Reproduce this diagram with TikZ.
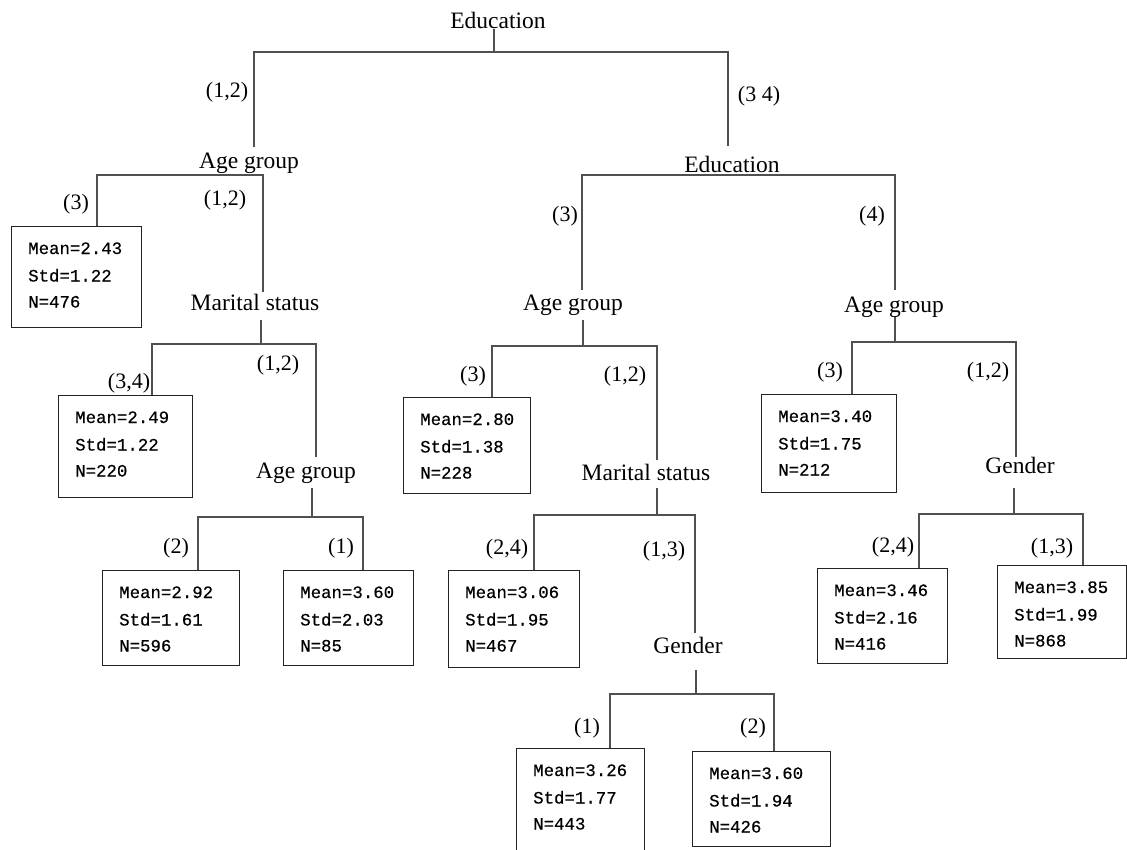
\documentclass[tikz,border=0pt]{standalone}
\usepackage{fontspec}
\setmainfont{Liberation Serif}
\newfontfamily\monof[FakeBold=0.4]{Liberation Mono}
\definecolor{linecol}{RGB}{80,80,80}
\definecolor{boxcol}{RGB}{35,35,35}
\newcommand{\mkbox}[8]{%
  \node[statbox, minimum width=#4pt, minimum height=#5pt] (#1) at (#2,#3) {};
  \node[stat] (#1-m) at (#2+17,#3+28) {Mean=#6};
  \node[stat] (#1-s) at (#2+17,#3+55.5) {Std=#7};
  \node[stat] (#1-n) at (#2+17,#3+81.5) {N=#8};
}
\begin{document}
\begin{tikzpicture}[x=1pt,y=-1pt,
  conn/.style={draw=linecol, line width=1.4pt},
  split/.style={font=\fontsize{23.5}{26}\selectfont, inner sep=0pt, anchor=base},
  lab/.style={font=\fontsize{22}{24}\selectfont, inner sep=0pt},
  statbox/.style={draw=boxcol, line width=1.4pt, anchor=north west, inner sep=0pt, fill=white},
  stat/.style={font=\monof\fontsize{17.4}{20}\selectfont, inner sep=0pt, anchor=base west}]
\fill[white] (0,0) rectangle (1127,849);
\clip (0,0) rectangle (1127,849);

% split nodes
\node[split] (edu1) at (498,28) {Education};
\node[split] (age1) at (249,168) {Age group};
\node[split] (ms1) at (255,310) {Marital status};
\node[split] (age2) at (306,478) {Age group};
\node[split] (edu2) at (732,172) {Education};
\node[split] (age3) at (573,310) {Age group};
\node[split] (ms2) at (646,480) {Marital status};
\node[split] (gen1) at (688,653) {Gender};
\node[split] (age4) at (894,312) {Age group};
\node[split] (gen2) at (1020,473) {Gender};

% leaf boxes
\mkbox{b1}{11}{226}{130}{101}{2.43}{1.22}{476}
\mkbox{b2}{58}{395}{134}{102}{2.49}{1.22}{220}
\mkbox{b3}{102}{570}{137}{95}{2.92}{1.61}{596}
\mkbox{b4}{283}{570}{130}{95}{3.60}{2.03}{85}
\mkbox{b5}{403}{397}{127}{96}{2.80}{1.38}{228}
\mkbox{b6}{448}{570}{131}{97}{3.06}{1.95}{467}
\mkbox{b7}{516}{748}{128}{120}{3.26}{1.77}{443}
\mkbox{b8}{692}{751}{138}{95}{3.60}{1.94}{426}
\mkbox{b9}{761}{394}{135}{98}{3.40}{1.75}{212}
\mkbox{b10}{817}{568}{130}{95}{3.46}{2.16}{416}
\mkbox{b11}{997}{565}{129}{93}{3.85}{1.99}{868}

% connector points
\coordinate (r-t) at (494,29);  \coordinate (r-j) at (494,52);
\coordinate (r-l) at (254,147); \coordinate (r-r) at (728,146);
\coordinate (a1-j) at (263,175); \coordinate (a1-l) at (97,226); \coordinate (a1-r) at (263,292);
\coordinate (m1-t) at (261,320); \coordinate (m1-j) at (261,344);
\coordinate (m1-l) at (152,395); \coordinate (m1-r) at (316,457);
\coordinate (a2-t) at (312,488); \coordinate (a2-j) at (312,517);
\coordinate (a2-l) at (198,570); \coordinate (a2-r) at (363,570);
\coordinate (e2-j) at (732,175); \coordinate (e2-l) at (582,290); \coordinate (e2-r) at (895,290);
\coordinate (a3-t) at (583,320); \coordinate (a3-j) at (583,346);
\coordinate (a3-l) at (492,397); \coordinate (a3-r) at (657,460);
\coordinate (m2-t) at (657,488); \coordinate (m2-j) at (657,515);
\coordinate (m2-l) at (534,570); \coordinate (m2-r) at (695,633);
\coordinate (g1-t) at (696,670); \coordinate (g1-j) at (696,694);
\coordinate (g1-l) at (610,748); \coordinate (g1-r) at (774,751);
\coordinate (a4-t) at (895,317); \coordinate (a4-j) at (895,342);
\coordinate (a4-l) at (852,394); \coordinate (a4-r) at (1016,457);
\coordinate (g2-t) at (1014,488); \coordinate (g2-j) at (1014,514);
\coordinate (g2-l) at (919,568); \coordinate (g2-r) at (1083,565);

% connectors
\draw[conn] (r-t) -- (r-j);
\draw[conn] (r-l) |- (r-j) -| (r-r);
\draw[conn] (a1-l) |- (a1-j) -- (a1-r);
\draw[conn] (m1-t) -- (m1-j);
\draw[conn] (m1-l) |- (m1-j) -| (m1-r);
\draw[conn] (a2-t) -- (a2-j);
\draw[conn] (a2-l) |- (a2-j) -| (a2-r);
\draw[conn] (e2-l) |- (e2-j) -| (e2-r);
\draw[conn] (a3-t) -- (a3-j);
\draw[conn] (a3-l) |- (a3-j) -| (a3-r);
\draw[conn] (m2-t) -- (m2-j);
\draw[conn] (m2-l) |- (m2-j) -| (m2-r);
\draw[conn] (g1-t) -- (g1-j);
\draw[conn] (g1-l) |- (g1-j) -| (g1-r);
\draw[conn] (a4-t) -- (a4-j);
\draw[conn] (a4-l) |- (a4-j) -| (a4-r);
\draw[conn] (g2-t) -- (g2-j);
\draw[conn] (g2-l) |- (g2-j) -| (g2-r);

% edge labels
\node[lab] (L1) at (227,92) {(1,2)};
\node[lab] (L2) at (759,96) {(3 4)};
\node[lab] (L3) at (76,204) {(3)};
\node[lab] (L4) at (225,200) {(1,2)};
\node[lab] (L5) at (129,383) {(3,4)};
\node[lab] (L6) at (278,365) {(1,2)};
\node[lab] (L7) at (176,548) {(2)};
\node[lab] (L8) at (341,548) {(1)};
\node[lab] (L9) at (565,216) {(3)};
\node[lab] (L10) at (872,216) {(4)};
\node[lab] (L11) at (473,376) {(3)};
\node[lab] (L12) at (625,376) {(1,2)};
\node[lab] (L13) at (507,549) {(2,4)};
\node[lab] (L14) at (664,551) {(1,3)};
\node[lab] (L15) at (587,728) {(1)};
\node[lab] (L16) at (753,728) {(2)};
\node[lab] (L17) at (830,372) {(3)};
\node[lab] (L18) at (988,372) {(1,2)};
\node[lab] (L19) at (893,547) {(2,4)};
\node[lab] (L20) at (1052,548) {(1,3)};
\end{tikzpicture}
\end{document}
